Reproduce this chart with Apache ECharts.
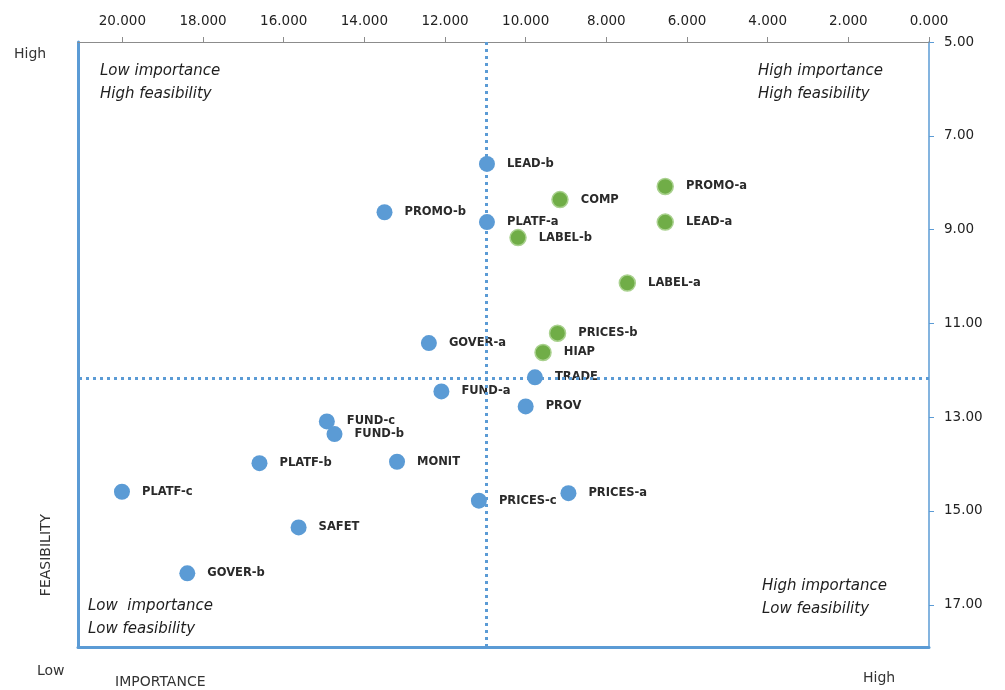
<!DOCTYPE html>
<html>
<head>
<meta charset="utf-8">
<script src="https://cdn.jsdelivr.net/npm/echarts@6/dist/echarts.min.js"></script>
<style>
html,body{margin:0;padding:0;background:#fff;}
#main{width:1005px;height:690px;}
</style>
</head>
<body>
<div id="main"></div>
<script>
// Data: name, importance (x), feasibility (y), group (green = priority)
const names = ['LEAD-b','PROMO-a','COMP','PROMO-b','PLATF-a','LEAD-a','LABEL-b','LABEL-a','PRICES-b','GOVER-a','HIAP','TRADE','FUND-a','PROV','FUND-c','FUND-b','PLATF-b','MONIT','PLATF-c','PRICES-c','PRICES-a','SAFET','GOVER-b'];
const importance = [10.96,6.54,9.15,13.50,10.96,6.54,10.19,7.48,9.21,12.40,9.57,9.77,12.09,10.00,14.93,14.74,16.60,13.19,20.01,11.16,8.94,15.63,18.39];
const feasibility = [7.60,8.08,8.36,8.63,8.84,8.84,9.17,10.14,11.21,11.42,11.62,12.15,12.45,12.77,13.09,13.36,13.98,13.95,14.59,14.78,14.62,15.35,16.33];
const isGreen = [0,1,1,0,0,1,1,1,1,0,1,0,0,0,0,0,0,0,0,0,0,0,0];
const importanceCut = 10.97;
const feasibilityCut = 12.17;

const blueData = [], greenData = [];
names.forEach((n,i)=>{
  const d = {name:n, value:[importance[i], feasibility[i]]};
  (isGreen[i] ? greenData : blueData).push(d);
});

const BLUE = '#5B9BD5';
const GREEN = '#70AD47';
const labelStyle = {show:true, position:'right', distance:12, formatter:'{b}', color:'#2a2a2a', fontFamily:'DejaVu Sans', fontWeight:'bold', fontSize:11.5};

const chart = echarts.init(document.getElementById('main'));
const xCommon = {type:'value', min:0, max:21.1, interval:2, inverse:true, splitLine:{show:false}};
const yCommon = {type:'value', min:5, max:17.9, interval:2, inverse:true, splitLine:{show:false}};
const quad = (t,x,y)=>({type:'text', x:x, y:y, style:{text:t, font:'italic 15px "DejaVu Sans"', fill:'#1e1e1e', lineHeight:23}});
const plain = (t,x,y,extra)=>Object.assign({type:'text', x:x, y:y, style:{text:t, font:'14px "DejaVu Sans"', fill:'#333', textVerticalAlign:'middle'}}, extra||{});
chart.setOption({
  animation:false,
  backgroundColor:'#fff',
  grid:{left:78, right:76, top:42, bottom:43},
  xAxis:[
    Object.assign({}, xCommon, {position:'top',
      axisLine:{show:true, onZero:false, lineStyle:{color:'#8c8c8c', width:1.2}},
      axisTick:{show:true, length:5, lineStyle:{color:'#8c8c8c'}},
      axisLabel:{margin:14, showMaxLabel:false, color:'#222', fontFamily:'DejaVu Sans', fontSize:13.5, formatter:v=>v.toFixed(3)}}),
    Object.assign({}, xCommon, {position:'bottom',
      axisLine:{show:true, onZero:false, lineStyle:{color:BLUE, width:3}},
      axisTick:{show:false}, axisLabel:{show:false}})
  ],
  yAxis:[
    Object.assign({}, yCommon, {position:'right',
      axisLine:{show:true, onZero:false, lineStyle:{color:BLUE, width:1.5}},
      axisTick:{show:true, length:5, lineStyle:{color:BLUE}},
      axisLabel:{margin:15, showMaxLabel:false, color:'#222', fontFamily:'DejaVu Sans', fontSize:13.5, formatter:v=>v.toFixed(2)}}),
    Object.assign({}, yCommon, {position:'left',
      axisLine:{show:true, onZero:false, lineStyle:{color:BLUE, width:3}},
      axisTick:{show:false}, axisLabel:{show:false}})
  ],
  series:[
    {type:'scatter', xAxisIndex:0, yAxisIndex:0, symbolSize:16, data:blueData,
     itemStyle:{color:BLUE, opacity:1}, label:labelStyle,
     markLine:{silent:true, symbol:'none', label:{show:false},
       lineStyle:{color:BLUE, width:3, type:[3,4]},
       data:[{xAxis:importanceCut},{yAxis:feasibilityCut}]}},
    {type:'scatter', xAxisIndex:0, yAxisIndex:0, symbolSize:16, data:greenData,
     itemStyle:{color:GREEN, borderColor:'#A9D18E', borderWidth:1.5, opacity:1}, label:labelStyle}
  ],
  graphic:[
    quad('Low importance\nHigh feasibility', 100, 60),
    quad('High importance\nHigh feasibility', 758, 60),
    quad('High importance\nLow feasibility', 762, 575),
    quad('Low  importance\nLow feasibility', 88, 595),
    plain('High', 14, 54),
    plain('Low', 37, 671),
    plain('High', 863, 678),
    plain('IMPORTANCE', 115, 682),
    {type:'text', x:46, y:555, rotation:Math.PI/2, style:{text:'FEASIBILITY', font:'14px "DejaVu Sans"', fill:'#333', textAlign:'center', textVerticalAlign:'middle'}}
  ]
});
</script>
</body>
</html>
